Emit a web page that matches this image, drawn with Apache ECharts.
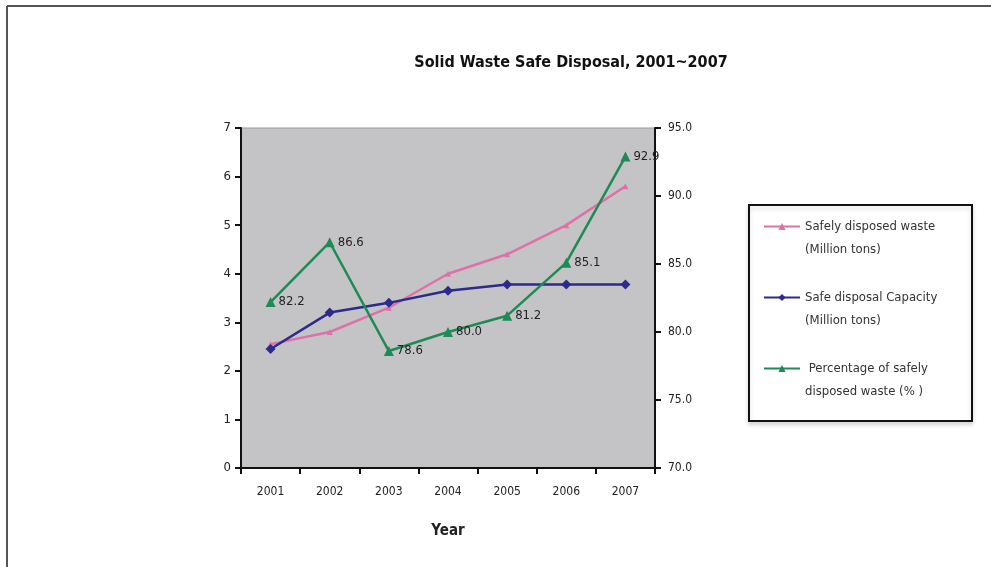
<!DOCTYPE html>
<html>
<head>
<meta charset="utf-8">
<script src="https://cdn.jsdelivr.net/npm/echarts@6/dist/echarts.min.js"></script>
<style>
html,body{margin:0;padding:0;background:#fff;}
#c{width:991px;height:567px;}
</style>
</head>
<body>
<div id="c"></div>
<script>
const years = ['2001','2002','2003','2004','2005','2006','2007'];
const safelyDisposed = [2.55, 2.8, 3.3, 4.0, 4.4, 5.0, 5.8];
const disposalCapacity = [2.45, 3.2, 3.4, 3.65, 3.78, 3.78, 3.78];
const percentSafe = [82.2, 86.6, 78.6, 80.0, 81.2, 85.1, 92.9];
const leftTicks = {min: 0, max: 7, interval: 1};
const rightTicks = {min: 70, max: 95, interval: 5};

const FONT = '"Liberation Sans Narrow", "DejaVu Sans Condensed", "Liberation Sans", Arial, sans-serif';
const chart = echarts.init(document.getElementById('c'));
chart.setOption({
  backgroundColor: '#ffffff',
  animation: false,
  textStyle: {fontFamily: FONT},
  title: {
    text: 'Solid Waste Safe Disposal, 2001~2007',
    left: 566, top: 50, textAlign: 'center',
    textStyle: {fontFamily: FONT, fontSize: 16, fontWeight: 'bold', color: '#111'}
  },
  graphic: [
    {type: 'line', shape: {x1: 7, y1: 6, x2: 7, y2: 567}, style: {stroke: '#555', lineWidth: 2}},
    {type: 'line', shape: {x1: 7, y1: 6, x2: 991, y2: 6}, style: {stroke: '#555', lineWidth: 2}},
    {type: 'rect', shape: {x: 749, y: 205, width: 223, height: 216},
     style: {fill: '#fff', stroke: '#111', lineWidth: 2, shadowBlur: 4, shadowColor: 'rgba(0,0,0,0.15)', shadowOffsetY: 3}, z: -1}
  ],
  legend: {
    orient: 'vertical',
    left: 758, top: 187,
    itemGap: 2,
    itemWidth: 36, itemHeight: 9,
    formatter: n => '\n' + n,
    textStyle: {fontFamily: FONT, fontSize: 13, color: '#333', lineHeight: 23},
    data: ['Safely disposed waste\n(Million tons)', 'Safe disposal Capacity\n(Million tons)', ' Percentage of safely\ndisposed waste (% )']
  },
  grid: {
    left: 241, right: 336, top: 128, bottom: 99,
    show: true, backgroundColor: '#c4c4c7', borderColor: '#999', borderWidth: 1
  },
  xAxis: {
    type: 'category', data: years, boundaryGap: true,
    name: 'Year', nameLocation: 'middle', nameGap: 56,
    nameTextStyle: {fontFamily: FONT, fontSize: 15, fontWeight: 'bold', color: '#222'},
    axisLine: {lineStyle: {color: '#111', width: 2}},
    axisTick: {show: true, interval: 0, length: 6, alignWithLabel: false, lineStyle: {color: '#111', width: 2}},
    axisLabel: {fontFamily: FONT, fontSize: 12, color: '#222', margin: 18}
  },
  yAxis: [
    {
      type: 'value', min: leftTicks.min, max: leftTicks.max, interval: leftTicks.interval,
      axisLine: {show: true, lineStyle: {color: '#111', width: 2}},
      axisTick: {show: true, length: 6, lineStyle: {color: '#111', width: 2}},
      axisLabel: {fontFamily: FONT, fontSize: 13, color: '#222', margin: 10},
      splitLine: {show: false}
    },
    {
      type: 'value', min: rightTicks.min, max: rightTicks.max, interval: rightTicks.interval,
      position: 'right',
      axisLine: {show: true, lineStyle: {color: '#111', width: 2}},
      axisTick: {show: true, length: 6, lineStyle: {color: '#111', width: 2}},
      axisLabel: {fontFamily: FONT, fontSize: 12, color: '#222', margin: 13, formatter: v => v.toFixed(1)},
      splitLine: {show: false}
    }
  ],
  series: [
    {
      name: 'Safely disposed waste\n(Million tons)', type: 'line', yAxisIndex: 0,
      data: safelyDisposed,
      symbol: 'triangle', symbolSize: 6,
      lineStyle: {color: '#e070a8', width: 2.5},
      itemStyle: {color: '#e070a8'}
    },
    {
      name: 'Safe disposal Capacity\n(Million tons)', type: 'line', yAxisIndex: 0,
      data: disposalCapacity,
      symbol: 'diamond', symbolSize: 10,
      lineStyle: {color: '#2c2a8a', width: 2.5},
      itemStyle: {color: '#2c2a8a'}
    },
    {
      name: ' Percentage of safely\ndisposed waste (% )', type: 'line', yAxisIndex: 1,
      data: percentSafe,
      symbol: 'triangle', symbolSize: 10,
      lineStyle: {color: '#1e8a55', width: 2.5},
      itemStyle: {color: '#1e8a55'},
      label: {show: true, position: 'right', distance: 3, formatter: p => p.value.toFixed(1),
              fontFamily: FONT, fontSize: 13, color: '#222'}
    }
  ]
});
</script>
</body>
</html>
